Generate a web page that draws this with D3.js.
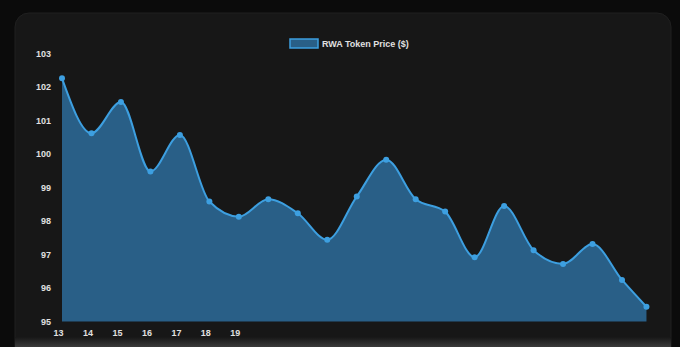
<!DOCTYPE html>
<html>
<head>
<meta charset="utf-8">
<script src="https://cdn.jsdelivr.net/npm/d3@7"></script>
<style>
  html, body { margin: 0; padding: 0; background: #0b0b0b; }
  svg { display: block; }
  text { font-family: "Liberation Sans", Arial, sans-serif; font-weight: bold; fill: #e0e0e0; }
</style>
</head>
<body>
<div class="chart"></div>
<script>
var svgWidth = 680;
var svgHeight = 347;

// data
var seriesName = "RWA Token Price ($)";
var xLabels = ["13", "14", "15", "16", "17", "18", "19"];
var steps = [0, 1, 2, 3, 4, 5, 6, 7, 8, 9, 10, 11, 12, 13, 14, 15, 16, 17, 18, 19, 19.83];
var prices = [102.26, 100.62, 101.55, 99.48, 100.57, 98.58, 98.13, 98.65, 98.23, 97.44,
              98.73, 99.83, 98.65, 98.28, 96.92, 98.45, 97.13, 96.72, 97.31, 96.24, 95.44];
var yTicks = [95, 96, 97, 98, 99, 100, 101, 102, 103];

var data = prices.map(function(p, i) { return { x: steps[i], y: p }; });

var svg = d3.select(".chart")
  .append("svg")
  .attr("width", svgWidth)
  .attr("height", svgHeight);

// card
var defs = svg.append("defs");
var grad = defs.append("linearGradient")
  .attr("id", "foot")
  .attr("x1", 0).attr("y1", 0).attr("x2", 0).attr("y2", 1);
grad.append("stop").attr("offset", "0%").attr("stop-color", "#171717");
grad.append("stop").attr("offset", "100%").attr("stop-color", "#3a3a3a");

svg.append("rect")
  .attr("x", 15).attr("y", 13)
  .attr("width", 656).attr("height", 360)
  .attr("rx", 14)
  .attr("fill", "#171717")
  .attr("stroke", "#202020");

svg.append("rect")
  .attr("x", 15).attr("y", 337)
  .attr("width", 656).attr("height", 10)
  .attr("fill", "url(#foot)");

// scales
var xScale = d3.scaleLinear()
  .domain([0, 19])
  .range([62, 622]);

var yScale = d3.scaleLinear()
  .domain([95, 103])
  .range([321.5, 53.5]);

// area + line
var area = d3.area()
  .x(d => xScale(d.x))
  .y0(yScale(95))
  .y1(d => yScale(d.y))
  .curve(d3.curveMonotoneX);

var line = d3.line()
  .x(d => xScale(d.x))
  .y(d => yScale(d.y))
  .curve(d3.curveMonotoneX);

svg.append("path")
  .datum(data)
  .attr("d", area)
  .attr("fill", "#295f87");

svg.append("path")
  .datum(data)
  .attr("d", line)
  .attr("fill", "none")
  .attr("stroke", "#3d9fe0")
  .attr("stroke-width", 2);

svg.selectAll("circle.pt")
  .data(data)
  .enter()
  .append("circle")
  .attr("class", "pt")
  .attr("cx", d => xScale(d.x))
  .attr("cy", d => yScale(d.y))
  .attr("r", 3)
  .attr("fill", "#3d9fe0");

// y axis labels
var yAxis = d3.axisLeft(yScale).tickValues(yTicks).tickSize(0).tickPadding(0);
var yG = svg.append("g")
  .attr("transform", "translate(51,0)")
  .call(yAxis);
yG.select(".domain").remove();
yG.selectAll("text")
  .attr("font-size", "9px")
  .attr("font-family", "Liberation Sans, Arial, sans-serif")
  .attr("font-weight", "bold")
  .attr("fill", "#e0e0e0");

// x axis labels (only the first few categories carry labels)
var xAxis = d3.axisBottom(xScale)
  .tickValues(xLabels.map((l, i) => i))
  .tickFormat(i => xLabels[i])
  .tickSize(0)
  .tickPadding(0);
var xG = svg.append("g")
  .attr("transform", "translate(-4,330)")
  .call(xAxis);
xG.select(".domain").remove();
xG.selectAll("text")
  .attr("font-size", "9px")
  .attr("font-family", "Liberation Sans, Arial, sans-serif")
  .attr("font-weight", "bold")
  .attr("fill", "#e0e0e0");

// legend
var legend = svg.append("g").attr("transform", "translate(290,39)");
legend.append("rect")
  .attr("width", 28).attr("height", 9)
  .attr("fill", "#295f87")
  .attr("stroke", "#3d9fe0")
  .attr("stroke-width", 1.5);
legend.append("text")
  .attr("x", 32).attr("y", 8)
  .attr("font-size", "9px")
  .text(seriesName);
</script>
</body>
</html>
